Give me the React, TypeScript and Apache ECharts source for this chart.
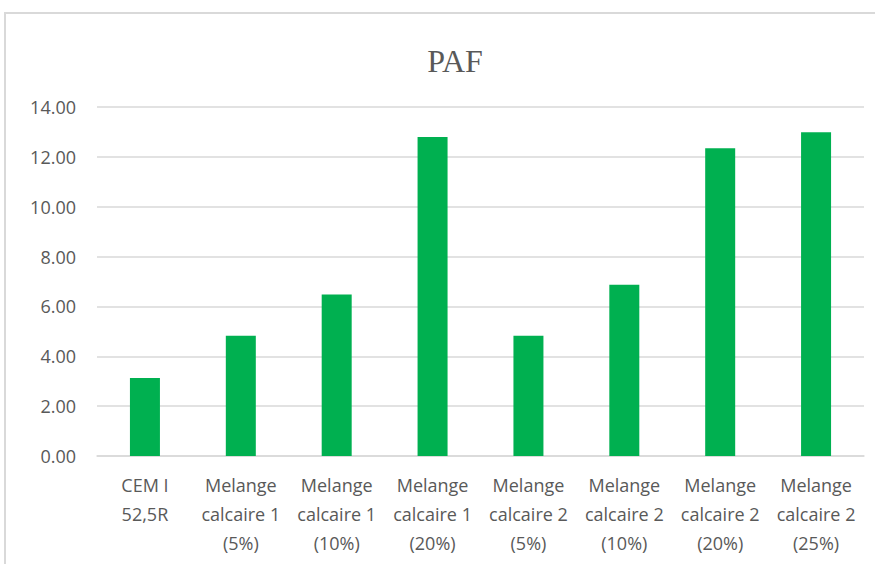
import React, { useEffect, useRef } from "react";
import * as echarts from "echarts";

const categories = [
  "CEM I\n52,5R",
  "Melange\ncalcaire 1\n(5%)",
  "Melange\ncalcaire 1\n(10%)",
  "Melange\ncalcaire 1\n(20%)",
  "Melange\ncalcaire 2\n(5%)",
  "Melange\ncalcaire 2\n(10%)",
  "Melange\ncalcaire 2\n(20%)",
  "Melange\ncalcaire 2\n(25%)",
];

const pafValues = [3.13, 4.82, 6.48, 12.8, 4.82, 6.87, 12.35, 12.99];

const yTicks = { min: 0, max: 14, interval: 2 };

export default function App() {
  const ref = useRef<HTMLDivElement>(null);

  useEffect(() => {
    if (!ref.current) return;
    const chart = echarts.init(ref.current, null, { renderer: "svg" });
    chart.setOption({
      animation: false,
      backgroundColor: "#ffffff",
      title: {
        text: "PAF",
        left: 450,
        textAlign: "center",
        top: 40,
        textStyle: {
          fontFamily: "Liberation Serif",
          fontSize: 32,
          fontWeight: "normal",
          color: "#595959",
        },
      },
      graphic: [
        {
          type: "rect",
          shape: { x: 5, y: 13, width: 900, height: 600 },
          style: { fill: "none", stroke: "#d9d9d9", lineWidth: 2 },
          silent: true,
        },
      ],
      grid: { left: 97, right: 11, top: 107, bottom: 108 },
      xAxis: {
        type: "category",
        data: categories,
        axisLine: { show: true, lineStyle: { color: "#d9d9d9", width: 1.5 } },
        axisTick: { show: false },
        axisLabel: {
          interval: 0,
          margin: 14,
          fontFamily: "Open Sans",
          fontSize: 18,
          lineHeight: 29,
          color: "#595959",
        },
      },
      yAxis: {
        type: "value",
        min: yTicks.min,
        max: yTicks.max,
        interval: yTicks.interval,
        axisLine: { show: false },
        axisTick: { show: false },
        splitLine: { lineStyle: { color: "#d9d9d9", width: 1.5 } },
        axisLabel: {
          margin: 21,
          fontFamily: "Open Sans",
          fontSize: 18,
          color: "#595959",
          formatter: (v: number) => v.toFixed(2),
        },
      },
      series: [
        {
          type: "bar",
          data: pafValues,
          barWidth: 30,
          itemStyle: { color: "#00b050" },
        },
      ],
    });
    return () => chart.dispose();
  }, []);

  return (
    <div
      ref={ref}
      style={{ position: "fixed", left: 0, top: 0, width: 875, height: 564 }}
    />
  );
}
